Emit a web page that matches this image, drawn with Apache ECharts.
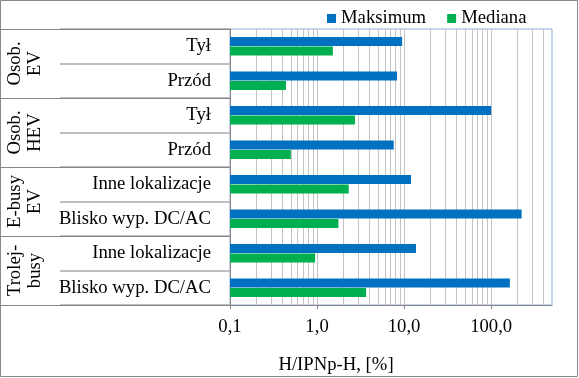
<!DOCTYPE html>
<html><head><meta charset="utf-8">
<script src="https://cdn.jsdelivr.net/npm/echarts@6/dist/echarts.min.js"></script>
<style>html,body{margin:0;padding:0;background:#fff}#c{width:579px;height:378px}</style>
</head><body><div id="c"></div>
<script>
const categories = ['Tył','Przód','Tył','Przód','Inne lokalizacje','Blisko wyp. DC/AC','Inne lokalizacje','Blisko wyp. DC/AC'];
const groups = ['Osob.\nEV','Osob.\nHEV','E-busy\nEV','Trolej-\nbusy'];
const maksimum = [9.5, 8.3, 100, 7.6, 12.0, 224, 13.7, 164];
const mediana = [1.52, 0.44, 2.73, 0.50, 2.31, 1.76, 0.95, 3.66];
const tickValues = [0.1, 1, 10, 100];
const tickLabels = ['0,1','1,0','10,0','100,0'];
const gridValues = [0.2,0.3,0.4,0.5,0.6,0.7,0.8,0.9,2,3,4,5,6,7,8,9,20,30,40,50,60,70,80,90,200,300,400];
const axisTitle = 'H/IPNp-H, [%]';

const FONT = "'Liberation Serif', 'Times New Roman', serif";
const FS = 18.7;
const chart = echarts.init(document.getElementById('c'), null, {renderer:'canvas'});
const option = {
  animation: false,
  backgroundColor: '#fff',
  textStyle: {fontFamily: FONT},
  legend: {
    data: ['Maksimum','Mediana'],
    left: 322, top: 4,
    icon: 'rect', itemWidth: 9, itemHeight: 9, itemGap: 21,
    textStyle: {fontFamily: FONT, fontSize: FS, color: '#000'}
  },
  grid: {left: 230, right: 27, top: 29, bottom: 73, show: true, borderColor: '#8eaad6', borderWidth: 1, backgroundColor: 'transparent'},
  xAxis: {
    type: 'log', logBase: 10, min: 0.1, max: 500, startValue: 0.1,
    axisLine: {show: true, lineStyle: {color: '#868686'}},
    axisTick: {show: true, length: 4, lineStyle: {color: '#868686'}, customValues: tickValues},
    axisLabel: {
      customValues: tickValues, margin: 13, fontFamily: FONT, fontSize: FS, color: '#000',
      formatter: v => { const i = tickValues.findIndex(t => Math.abs(t - v) < 1e-9 * Math.max(1, v)); return i >= 0 ? tickLabels[i] : ''; }
    },
    splitLine: {show: true, lineStyle: {color: '#c4c4c4'}},
    minorTick: {show: false}
  },
  yAxis: [{
    type: 'category', data: categories, inverse: true, position: 'left', offset: 0,
    axisLine: {show: true, lineStyle: {color: '#868686'}},
    axisTick: {show: true, length: 170, lineStyle: {color: '#bfbfbf', width: 2}},
    axisLabel: {margin: 19, fontFamily: FONT, fontSize: FS, color: '#000'},
    splitLine: {show: false}
  }, {
    type: 'category', data: groups, inverse: true, position: 'left', offset: 0,
    axisLine: {show: false},
    axisTick: {show: true, length: 230, lineStyle: {color: '#868686', width: 1}},
    axisLabel: {rotate: 90, margin: 185, fontFamily: FONT, fontSize: FS, lineHeight: 20, color: '#000'},
    splitLine: {show: false}
  }],
  series: [{
    name: 'grid', type: 'line', yAxisIndex: 1, data: [], z: 1, silent: true,
    markLine: {
      z: 1, silent: true, symbol: 'none', label: {show: false},
      lineStyle: {color: '#c4c4c4', type: 'solid', width: 1},
      data: gridValues.map(v => ({xAxis: v}))
    }
  }, {
    name: 'Maksimum', type: 'bar', yAxisIndex: 0, data: maksimum, z: 3,
    barWidth: 9, barGap: '8%',
    itemStyle: {color: '#0070C0'}
  }, {
    name: 'Mediana', type: 'bar', yAxisIndex: 0, data: mediana, z: 3,
    barWidth: 9, barGap: '8%',
    itemStyle: {color: '#00B050'}
  }],
  graphic: [{
    type: 'rect', silent: true, z: 100,
    shape: {x: 0.5, y: 0.5, width: 577, height: 376},
    style: {fill: 'none', stroke: '#898989', lineWidth: 1}
  }, {
    type: 'text', silent: true, x: 336, y: 365,
    style: {text: axisTitle, font: "18.7px 'Liberation Serif', 'Times New Roman', serif", fill: '#000', textAlign: 'center', textVerticalAlign: 'middle'}
  }]
};
chart.setOption(option);
</script></body></html>
